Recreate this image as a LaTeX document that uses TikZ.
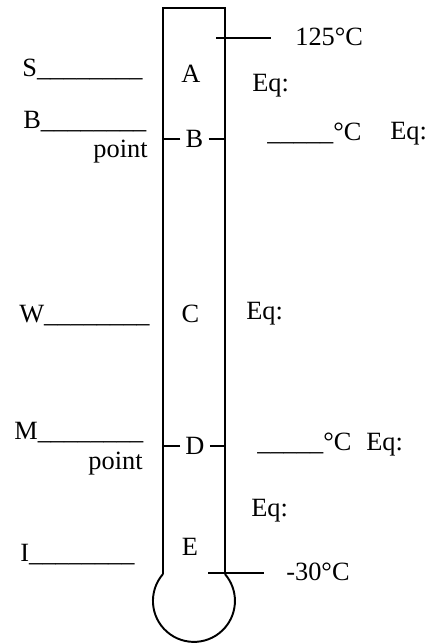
\documentclass[tikz,border=0pt]{standalone}
\usepackage{fontspec}
\setmainfont{Liberation Serif}
\usepackage{tikz}
\newcommand{\fillblank}{\_\_\_\_\_\_\_\_}
\newcommand{\degblank}{\_\_\_\_\_°C}
\tikzset{
  every picture/.style={font={\fontsize{15}{18}\selectfont}},
  wall/.style={line width=1.1pt},
  txt/.style={inner sep=0pt, anchor=base west},
  txtr/.style={inner sep=0pt, anchor=base east},
  zone/.style={inner sep=1mm, anchor=base},
}

\begin{document}
\begin{tikzpicture}[x=0.2mm, y=0.2mm]
  \useasboundingbox (0,0) rectangle (434,643);
  % tube and bulb
  \coordinate (tl) at (163,635);
  \coordinate (tr) at (225,635);
  \coordinate (bl) at (163,69);
  \coordinate (br) at (225,69);
  \draw[wall] (bl) -- (tl) -- (tr) -- (br);
  \draw[wall] (bl) arc[start angle=139, end angle=401, radius=8.2mm];
  % scale marks
  \coordinate (hot) at (216,605);
  \coordinate (cold) at (208,70);
  \draw[wall] (hot) -- ++(55,0);
  \draw[wall] (cold) -- ++(56,0);
  \node[txt] (t125) at (295,597) {125°C};
  \node[txt] (t30) at (286,63) {-30°C};
  % zones
  \foreach \t/\x/\y [count=\i] in {A/191/560, B/194.5/495, C/190.5/320, D/195/188, E/190/87}
    \node[zone] (z\i) at (\x,\y) {\t};
  \foreach \i in {2,4} {
    \draw[wall] (z\i.west) -- (z\i.west -| tl);
    \draw[wall] (z\i.east) -- (z\i.east -| tr);
  }
  % left labels
  \foreach \t/\x/\y [count=\i] in {S/22/566, B/23/514, W/19/320, M/14/203, I/20/81}
    \node[txt] (l\i) at (\x,\y) {\t\fillblank};
  \node[txtr] (p2) at (148,485) {point};
  \node[txtr] (p4) at (143,173) {point};
  % right labels
  \node[txt] (e1) at (252,551) {Eq:};
  \node[txt] (d2) at (267,502) {\degblank};
  \node[txt] (e2) at (390,503) {Eq:};
  \node[txt] (e3) at (246,323) {Eq:};
  \node[txt] (d4) at (257,192) {\degblank};
  \node[txt] (e4) at (366,192) {Eq:};
  \node[txt] (e5) at (251,126) {Eq:};
\end{tikzpicture}
\end{document}
